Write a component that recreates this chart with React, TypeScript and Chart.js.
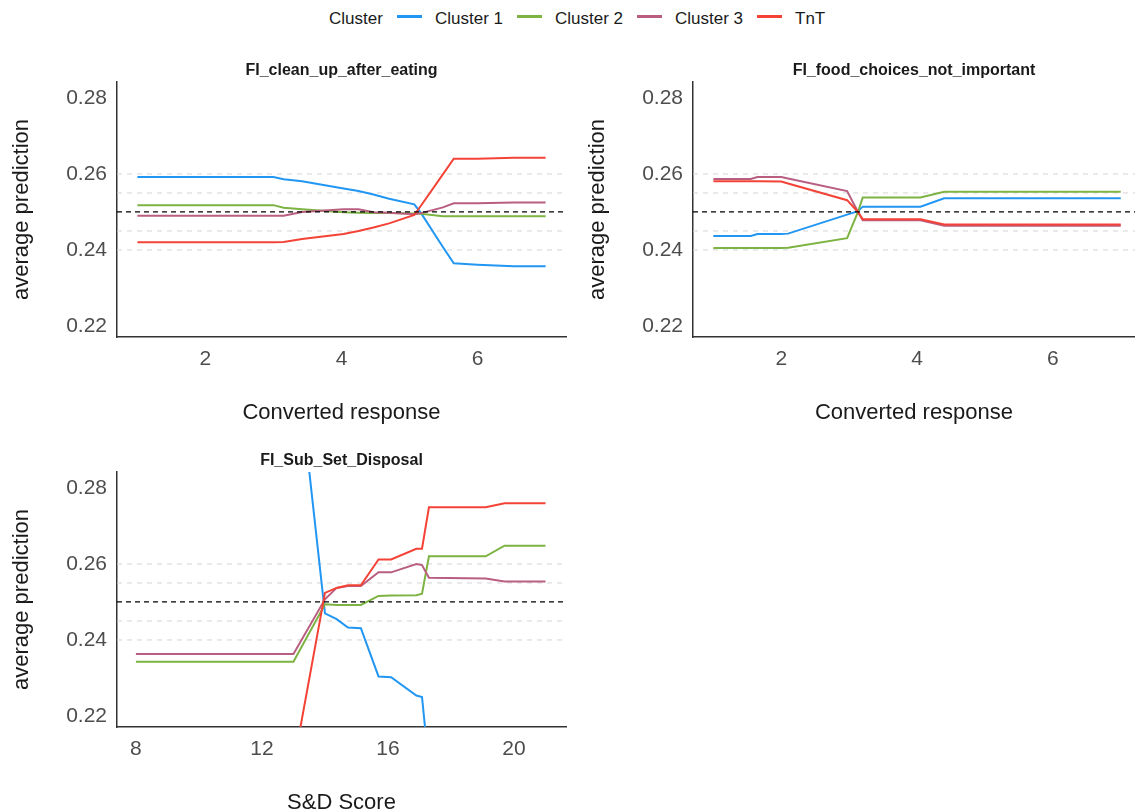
import React, { useEffect, useRef } from "react";
import { Chart, registerables } from "chart.js";

Chart.register(...registerables);

// ---------- shared ----------
const legendTitle = "Cluster";
const seriesNames = ["Cluster 1", "Cluster 2", "Cluster 3", "TnT"];
const seriesColors = ["#2196F3", "#7CB342", "#B95E80", "#F44336"];

const yLimits = [0.2171, 0.2842];
const yTickValues = [0.22, 0.24, 0.26, 0.28];
const guideValues = [0.24, 0.245, 0.255, 0.26];
const centerValue = 0.25;
const yAxisLabel = "average prediction";

// ---------- panel 1 ----------
const p1Title = "FI_clean_up_after_eating";
const p1XLabel = "Converted response";
const p1XLimits = [0.7, 7.3];
const p1XTicks = [2, 4, 6];
const p1Grid = [1, 3, 3.15, 3.42, 4.03, 4.25, 4.47, 4.7, 5.07, 5.17, 5.49, 5.65, 6.0, 6.53, 7];
const p1Cluster1 = [0.2592, 0.2592, 0.2586, 0.2581, 0.2562, 0.2555, 0.2546, 0.2535, 0.252, 0.2497, 0.2408, 0.2365, 0.2361, 0.2357, 0.2357];
const p1Cluster2 = [0.2518, 0.2518, 0.2511, 0.2507, 0.2499, 0.2498, 0.2497, 0.2497, 0.2496, 0.2495, 0.2489, 0.2489, 0.2489, 0.2489, 0.2489];
const p1Cluster3 = [0.249, 0.249, 0.249, 0.25, 0.2507, 0.2507, 0.2499, 0.2498, 0.2494, 0.2497, 0.2512, 0.2523, 0.2523, 0.2525, 0.2525];
const p1TnT = [0.242, 0.242, 0.2421, 0.2429, 0.2442, 0.245, 0.2459, 0.247, 0.2492, 0.2517, 0.2599, 0.264, 0.264, 0.2643, 0.2643];

// ---------- panel 2 ----------
const p2Title = "FI_food_choices_not_important";
const p2XLabel = "Converted response";
const p2XLimits = [0.7, 7.21];
const p2XTicks = [2, 4, 6];
const p2Grid = [1, 1.55, 1.65, 2.0, 2.1, 2.97, 3.13, 3.2, 4.05, 4.4, 7];
const p2Cluster1 = [0.2437, 0.2437, 0.2442, 0.2442, 0.2443, 0.2493, 0.2502, 0.2514, 0.2514, 0.2536, 0.2536];
const p2Cluster2 = [0.2405, 0.2405, 0.2405, 0.2405, 0.2406, 0.2431, 0.25, 0.2538, 0.2538, 0.2553, 0.2553];
const p2Cluster3 = [0.2587, 0.2587, 0.2592, 0.2592, 0.2588, 0.2555, 0.25, 0.2478, 0.2478, 0.2464, 0.2464];
const p2TnT = [0.2581, 0.2581, 0.2581, 0.258, 0.2575, 0.2531, 0.25, 0.2481, 0.2481, 0.2467, 0.2467];

// ---------- panel 3 ----------
const p3Title = "FI_Sub_Set_Disposal";
const p3XLabel = "S&D Score";
const p3XLimits = [7.4, 21.65];
const p3XTicks = [8, 12, 16, 20];
const p3Grid = [8, 13, 14, 14.37, 14.73, 15.14, 15.7, 16.1, 16.9, 17.08, 17.3, 19.1, 19.7, 21];
const p3Cluster1 = [0.322, 0.322, 0.247, 0.2455, 0.2433, 0.2431, 0.2304, 0.2302, 0.2254, 0.225, 0.2067, 0.2069, 0.2012, 0.2012];
const p3Cluster2 = [0.2343, 0.2343, 0.2494, 0.2492, 0.2492, 0.2492, 0.2516, 0.2517, 0.2518, 0.2522, 0.262, 0.262, 0.2648, 0.2648];
const p3Cluster3 = [0.2363, 0.2363, 0.2507, 0.2537, 0.2542, 0.2542, 0.2578, 0.2578, 0.26, 0.2597, 0.2564, 0.2562, 0.2554, 0.2554];
const p3TnT = [0.207, 0.207, 0.2524, 0.2537, 0.2544, 0.2544, 0.2612, 0.2612, 0.264, 0.264, 0.2749, 0.2749, 0.276, 0.276];

const FONT = "'Liberation Sans', Arial, Helvetica, sans-serif";

type PanelSpec = {
  title: string;
  xLabel: string;
  xLimits: number[];
  xTicks: number[];
  grid: number[];
  series: number[][];
  padRight: number;
};

const panels: Record<string, PanelSpec> = {
  p1: { title: p1Title, xLabel: p1XLabel, xLimits: p1XLimits, xTicks: p1XTicks, grid: p1Grid, series: [p1Cluster1, p1Cluster2, p1Cluster3, p1TnT], padRight: 14 },
  p2: { title: p2Title, xLabel: p2XLabel, xLimits: p2XLimits, xTicks: p2XTicks, grid: p2Grid, series: [p2Cluster1, p2Cluster2, p2Cluster3, p2TnT], padRight: 0 },
  p3: { title: p3Title, xLabel: p3XLabel, xLimits: p3XLimits, xTicks: p3XTicks, grid: p3Grid, series: [p3Cluster1, p3Cluster2, p3Cluster3, p3TnT], padRight: 14 },
};

function buildConfig(spec: PanelSpec): any {
  const [xmin, xmax] = spec.xLimits;
  const guides = guideValues.map((v) => ({
    data: [{ x: xmin, y: v }, { x: xmax, y: v }],
    borderColor: "#d4d4d4",
    borderWidth: 1,
    borderDash: [5, 5],
    pointRadius: 0,
    order: 10,
  }));
  const center = {
    data: [{ x: xmin, y: centerValue }, { x: xmax, y: centerValue }],
    borderColor: "#000000",
    borderWidth: 1.3,
    borderDash: [5, 4],
    pointRadius: 0,
    order: -1,
  };
  const lines = spec.series.map((vals, i) => ({
    label: seriesNames[i],
    data: spec.grid.map((x, j) => ({ x, y: vals[j] })),
    borderColor: seriesColors[i],
    borderWidth: 2,
    pointRadius: 0,
    tension: 0,
    clip: 0,
    order: 4 - i,
  }));
  return {
    type: "line",
    data: { datasets: [...guides, ...lines, center] },
    options: {
      animation: false,
      responsive: false,
      maintainAspectRatio: false,
      events: [],
      layout: { padding: { left: 0, right: spec.padRight, top: 0, bottom: 0 } },
      plugins: {
        legend: { display: false },
        tooltip: { enabled: false },
        title: {
          display: true,
          text: spec.title,
          fullSize: false,
          color: "#1a1a1a",
          font: { family: FONT, size: 16, weight: "bold" },
          padding: { top: 11, bottom: 1.8 },
        },
      },
      scales: {
        x: {
          type: "linear",
          min: xmin,
          max: xmax,
          grid: { display: false, drawTicks: false },
          border: { display: true, color: "#333333", width: 1.5 },
          ticks: {
            autoSkip: false,
            maxRotation: 0,
            padding: 10,
            color: "#4d4d4d",
            font: { family: FONT, size: 21 },
            callback: (v: any) => String(v),
          },
          afterBuildTicks: (s: any) => {
            s.ticks = spec.xTicks.map((v) => ({ value: v }));
          },
          afterFit: (s: any) => {
            s.height = 100;
          },
          title: {
            display: true,
            text: spec.xLabel,
            color: "#1a1a1a",
            font: { family: FONT, size: 22 },
            padding: { top: 0, bottom: 11 },
          },
        },
        y: {
          type: "linear",
          min: yLimits[0],
          max: yLimits[1],
          grid: { display: false, drawTicks: false },
          border: { display: true, color: "#333333", width: 1.5 },
          ticks: {
            autoSkip: false,
            padding: 10,
            color: "#4d4d4d",
            font: { family: FONT, size: 21 },
            callback: (v: any) => Number(v).toFixed(2),
          },
          afterBuildTicks: (s: any) => {
            s.ticks = yTickValues.map((v) => ({ value: v }));
          },
          afterFit: (s: any) => {
            s.width = 117;
          },
          title: {
            display: true,
            text: yAxisLabel,
            color: "#1a1a1a",
            font: { family: FONT, size: 22 },
            padding: { top: 8.8, bottom: 0 },
          },
        },
      },
    },
  };
}

function Panel({ spec, left, top, width, height }: { spec: PanelSpec; left: number; top: number; width: number; height: number }) {
  const ref = useRef<HTMLCanvasElement>(null);
  useEffect(() => {
    const chart = new Chart(ref.current as HTMLCanvasElement, buildConfig(spec));
    return () => chart.destroy();
  }, [spec]);
  return (
    <canvas
      ref={ref}
      width={width}
      height={height}
      style={{ position: "absolute", left, top, width, height }}
    />
  );
}

function Legend() {
  const keyLefts = [397, 517, 637, 757];
  return (
    <div style={{ position: "absolute", left: 0, top: 0, width: 1135, height: 40, fontFamily: FONT, fontSize: 17, color: "#1a1a1a" }}>
      <div style={{ position: "absolute", left: 329, top: 8.6, lineHeight: "20px", whiteSpace: "nowrap" }}>{legendTitle}</div>
      {seriesNames.map((name, i) => (
        <React.Fragment key={name}>
          <div style={{ position: "absolute", left: keyLefts[i], top: 15, width: 25, height: 2.5, background: seriesColors[i] }} />
          <div style={{ position: "absolute", left: keyLefts[i] + 38, top: 8.6, lineHeight: "20px", whiteSpace: "nowrap" }}>{name}</div>
        </React.Fragment>
      ))}
    </div>
  );
}

export default function App() {
  return (
    <div style={{ position: "absolute", left: 0, top: 0, width: 1135, height: 812, overflow: "hidden", background: "#ffffff" }}>
      <Legend />
      <Panel spec={panels.p1} left={0} top={50} width={580} height={387} />
      <Panel spec={panels.p2} left={576} top={50} width={559} height={387} />
      <Panel spec={panels.p3} left={0} top={440} width={580} height={387} />
    </div>
  );
}
